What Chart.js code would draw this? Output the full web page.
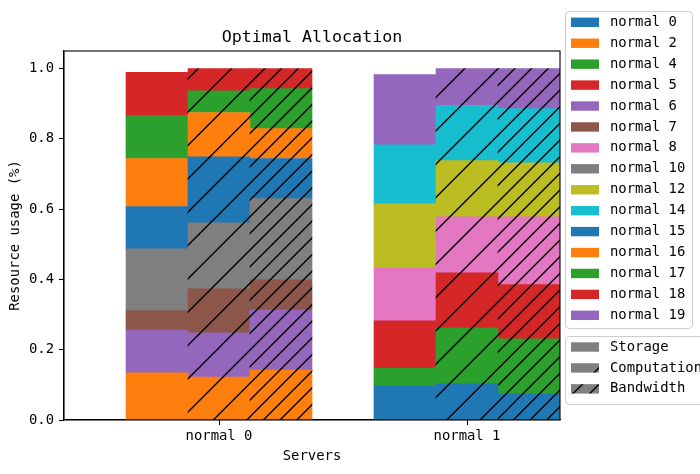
<!DOCTYPE html>
<html><head><meta charset="utf-8">
<script src="https://cdn.jsdelivr.net/npm/chart.js@4.4.1/dist/chart.umd.min.js"></script>
<style>html,body{margin:0;padding:0;background:#fff;}canvas{display:block;}</style>
</head><body>
<canvas id="c" width="700" height="474"></canvas>
<script>
// ---------- data ----------
const servers = ['normal 0', 'normal 1'];
const resources = ['Storage', 'Computation', 'Bandwidth'];
const tasks = ['normal 0','normal 2','normal 4','normal 5','normal 6','normal 7','normal 8','normal 10',
               'normal 12','normal 14','normal 15','normal 16','normal 17','normal 18','normal 19'];
const taskServer = [1,0,1,1,0,0,1,0,1,1,0,0,0,0,1];
const storage     = [0.097,0.134,0.051,0.134,0.122,0.055,0.151,0.176,0.182,0.168,0.120,0.137,0.122,0.123,0.200];
const computation = [0.103,0.122,0.159,0.157,0.126,0.125,0.159,0.188,0.160,0.157,0.188,0.126,0.062,0.063,0.105];
const bandwidth   = [0.074,0.142,0.157,0.154,0.171,0.086,0.193,0.231,0.154,0.154,0.114,0.085,0.114,0.057,0.114];
const yTicks = [0.0, 0.2, 0.4, 0.6, 0.8, 1.0];

// ---------- styles ----------
const palette = ['#1f77b4','#ff7f0e','#2ca02c','#d62728','#9467bd','#8c564b','#e377c2','#7f7f7f','#bcbd22','#17becf'];
const hatchDensity = [0, 3, 6]; // hatch lines per 100px tile for Storage / Computation / Bandwidth
const FONT = "'DejaVu Sans Mono', monospace";

const patternCache = {};
function makeFill(color, n) {
  if (!n) return color;
  const key = color + n;
  if (patternCache[key]) return patternCache[key];
  const cv = document.createElement('canvas');
  cv.width = cv.height = 100;
  const g = cv.getContext('2d');
  g.fillStyle = color; g.fillRect(0, 0, 100, 100);
  g.strokeStyle = '#000'; g.lineWidth = 1.4;
  const s = 100 / n;
  for (let k = 0; k <= 2 * n; k++) {
    const d = k * s;
    g.beginPath(); g.moveTo(-3, d + 3); g.lineTo(d + 3, -3); g.stroke();
  }
  const p = document.getElementById('c').getContext('2d').createPattern(cv, 'repeat');
  patternCache[key] = p;
  return p;
}

// 4 slots per server: gap, storage, computation, bandwidth
const slotLabels = servers.flatMap(s => ['', '', s, '']);
const values = [storage, computation, bandwidth];
const datasets = tasks.map((name, i) => {
  const color = palette[i % 10];
  const data = new Array(slotLabels.length).fill(null);
  const bg = new Array(slotLabels.length).fill(color);
  for (let r = 0; r < resources.length; r++) {
    const idx = taskServer[i] * 4 + 1 + r;
    data[idx] = values[r][i];
    bg[idx] = makeFill(color, hatchDensity[r]);
  }
  return { label: name, data, backgroundColor: bg, borderWidth: 0,
           categoryPercentage: 1.0, barPercentage: 1.0 };
});

const extras = {
  id: 'extras',
  afterDraw(chart) {
    const ctx = chart.ctx, a = chart.chartArea;
    ctx.save();
    // spines
    ctx.strokeStyle = '#000'; ctx.lineWidth = 1.1;
    ctx.strokeRect(a.left, a.top, a.right - a.left, a.bottom - a.top);
    // legends
    const rowH = 20.93;
    function box(x, y, w, h) {
      ctx.beginPath();
      ctx.roundRect(x + 0.5, y + 0.5, w, h, 4);
      ctx.fillStyle = 'rgba(255,255,255,0.8)'; ctx.fill();
      ctx.strokeStyle = '#cccccc'; ctx.lineWidth = 1; ctx.stroke();
    }
    ctx.font = '13.9px ' + FONT;
    ctx.textBaseline = 'middle'; ctx.textAlign = 'left';
    box(565, 11, 127, 317);
    tasks.forEach((t, i) => {
      const cy = 22.3 + i * rowH;
      ctx.fillStyle = palette[i % 10];
      ctx.fillRect(571, cy - 4.7, 28, 9.4);
      ctx.fillStyle = '#000';
      ctx.fillText(t, 610, cy);
    });
    box(565, 336, 145, 68);
    resources.forEach((r, i) => {
      const cy = 347 + i * rowH;
      ctx.fillStyle = makeFill('#808080', hatchDensity[i]);
      ctx.fillRect(571, cy - 4.7, 28, 9.4);
      ctx.fillStyle = '#000';
      ctx.fillText(r, 610, cy);
    });
    ctx.restore();
  }
};

new Chart(document.getElementById('c'), {
  type: 'bar',
  data: { labels: slotLabels, datasets },
  options: {
    responsive: false,
    animation: false,
    layout: { padding: { left: 0, right: 140, top: 0, bottom: 0 } },
    plugins: {
      legend: { display: false },
      tooltip: { enabled: false },
      title: { display: true, text: 'Optimal Allocation', fullSize: false, color: '#000',
               font: { family: FONT, size: 16.67, weight: 'normal', lineHeight: 1.2 },
               padding: { top: 27.5, bottom: 3.5 } }
    },
    scales: {
      x: {
        stacked: true,
        grid: { display: true, drawOnChartArea: false, drawTicks: true, tickLength: 5,
                tickColor: '#000', tickWidth: 1.1, offset: false },
        border: { display: true, color: '#000', width: 1.1 },
        ticks: { color: '#000', font: { family: FONT, size: 13.9 }, padding: 3, maxRotation: 0, autoSkip: false },
        afterBuildTicks: s => { s.ticks = slotLabels.map((l, i) => ({ value: i })).filter(t => slotLabels[t.value] !== ''); },
        afterFit: s => { s.height = 54; },
        title: { display: true, text: 'Servers', color: '#000',
                 font: { family: FONT, size: 13.9, lineHeight: 1.2 }, padding: { top: 0, bottom: 9.5 } }
      },
      y: {
        stacked: true,
        min: 0, max: 1.05,
        grid: { display: true, drawOnChartArea: false, drawTicks: true, tickLength: 5,
                tickColor: '#000', tickWidth: 1.1 },
        border: { display: true, color: '#000', width: 1.1 },
        ticks: { color: '#000', font: { family: FONT, size: 13.9 }, padding: 5,
                 callback: v => Number(v).toFixed(1) },
        afterBuildTicks: s => { s.ticks = yTicks.map(v => ({ value: v })); },
        afterFit: s => { s.width = 64; },
        title: { display: true, text: 'Resource usage (%)', color: '#000',
                 font: { family: FONT, size: 13.9, lineHeight: 1.2 }, padding: { top: 7.5, bottom: 0 } }
      }
    }
  },
  plugins: [extras]
});
</script>
</body></html>
